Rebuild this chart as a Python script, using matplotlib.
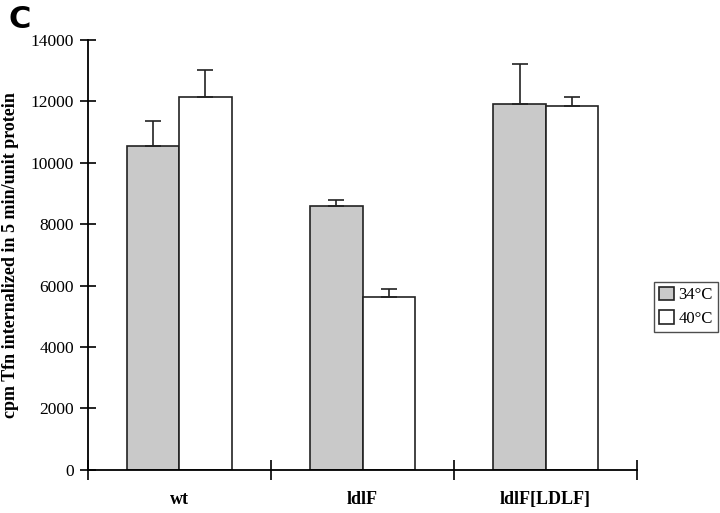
import matplotlib.pyplot as plt
import numpy as np

# data
groups = ['wt', 'ldlF', 'ldlF[LDLF]']
mean_34 = [10550, 8580, 11920]
err_34 = [800, 210, 1300]
mean_40 = [12130, 5630, 11850]
err_40 = [880, 250, 300]

plt.rcParams['font.family'] = ['Liberation Serif', 'DejaVu Serif']

fig = plt.figure(figsize=(7.2, 5.13), dpi=100)
ax = fig.add_axes([0.122, 0.084, 0.763, 0.838])

x = np.arange(len(groups)) + 0.5
w = 0.285

ax.bar(x - w / 2, mean_34, w, color='#c9c9c9', edgecolor='#222222', linewidth=1.2, label='34°C')
ax.bar(x + w / 2, mean_40, w, color='white', edgecolor='#222222', linewidth=1.2, label='40°C')
ax.errorbar(x - w / 2, mean_34, yerr=[np.zeros(3), err_34], fmt='none', ecolor='#222222',
            elinewidth=1.2, capsize=6, capthick=1.2)
ax.errorbar(x + w / 2, mean_40, yerr=[np.zeros(3), err_40], fmt='none', ecolor='#222222',
            elinewidth=1.2, capsize=6, capthick=1.2)

ax.set_xlim(0, 3)
ax.set_ylim(0, 14000)
ax.set_yticks(np.arange(0, 14001, 2000))
ax.set_xticks([0, 1, 2, 3])
ax.set_xticklabels([])
ax.set_xticks(x, minor=True)
ax.set_xticklabels(groups, minor=True, fontweight='bold', fontsize=13)
ax.tick_params(axis='x', which='minor', length=0, pad=15)
ax.tick_params(axis='x', which='major', direction='inout', length=14, width=1.2)
ax.tick_params(axis='y', direction='inout', length=12, width=1.2, labelsize=12.5, pad=4)

for s in ['top', 'right']:
    ax.spines[s].set_visible(False)
for s in ['left', 'bottom']:
    ax.spines[s].set_linewidth(1.3)

ax.set_ylabel('cpm Tfn internalized in 5 min/unit protein', fontweight='bold', fontsize=13, labelpad=8)

ax.legend(loc='center left', bbox_to_anchor=(1.03, 0.38), frameon=True, fancybox=False,
          edgecolor='#222222', fontsize=12, handlelength=0.9, handleheight=0.9,
          handletextpad=0.3, borderpad=0.3, labelspacing=0.4, borderaxespad=0)

fig.text(0.012, 0.945, 'C', fontsize=22, fontweight='bold', family='DejaVu Sans')

fig.savefig('out.png', dpi=100)
